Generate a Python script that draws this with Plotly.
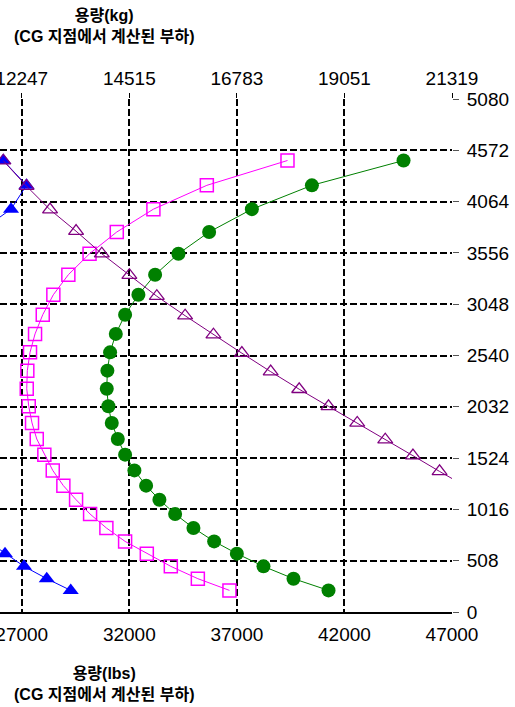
import plotly.graph_objects as go

# ---- axis ticks ----
lbs_ticks = [27000, 32000, 37000, 42000, 47000]
lbs_labels = ["27000", "32000", "37000", "42000", "47000"]
kg_labels = ["12247", "14515", "16783", "19051", "21319"]
y_ticks = [0, 508, 1016, 1524, 2032, 2540, 3048, 3556, 4064, 4572, 5080]

# ---- series data (x in lbs, y load) ----
load_levels = [214, 330, 452, 578, 699, 832, 970, 1112, 1251, 1402, 1558, 1713, 1872,
               2038, 2211, 2390, 2571, 2754, 2944, 3142, 3340, 3548, 3763, 3989, 4225, 4471]

magenta_x = [36655, 35186, 33930, 32814, 31805, 30935, 30177, 29526, 28935, 28442, 28051,
             27698, 27479, 27326, 27233, 27260, 27386, 27619, 27977, 28470, 29167, 30153,
             31418, 33121, 35604, 39353]

green_x = [41260, 39632, 38237, 37000, 35944, 34981, 34130, 33400, 32781, 32237, 31805,
           31465, 31186, 31028, 30953, 30981, 31107, 31372, 31805, 32423, 33200, 34284,
           35711, 37697, 40488, 44748]

blue_x = [29277, 28163, 27107, 26223, 25433, 25014, 26502, 27223, 26144]
blue_y = [214, 330, 452, 578, 699, 3763, 3989, 4225, 4471]

purple_x = [26144, 27223, 28316, 29526, 30721, 32004, 33279, 34595, 35911, 37232, 38572,
            39897, 41260, 42595, 43897, 45185, 46422, 47664]
purple_y = [4469, 4217, 3984, 3771, 3548, 3335, 3127, 2934, 2746, 2563, 2380, 2206,
            2036, 1872, 1706, 1548, 1392, 1241]

FONT = "Liberation Sans, Arial, Noto Sans CJK KR, sans-serif"

fig = go.Figure()
fig.add_trace(go.Scatter(x=blue_x, y=blue_y, mode="lines+markers",
                         line=dict(color="#0000FF", width=1),
                         marker=dict(symbol="triangle-up", size=14, color="#0000FF")))
fig.add_trace(go.Scatter(x=green_x, y=load_levels, mode="lines+markers",
                         line=dict(color="#008000", width=1),
                         marker=dict(symbol="circle", size=14, color="#008000")))
fig.add_trace(go.Scatter(x=magenta_x, y=load_levels, mode="lines+markers",
                         line=dict(color="#FF00FF", width=1),
                         marker=dict(symbol="square-open", size=13, color="#FF00FF",
                                     line=dict(width=1.5, color="#FF00FF"))))
fig.add_trace(go.Scatter(x=purple_x, y=purple_y, mode="lines+markers",
                         line=dict(color="#800080", width=1),
                         marker=dict(symbol="triangle-up-open", size=13, color="#800080",
                                     line=dict(width=1.3, color="#800080"))))
# dummy trace for the top (kg) axis
fig.add_trace(go.Scatter(x=[30000], y=[2000], xaxis="x2", mode="markers",
                         marker=dict(opacity=0), hoverinfo="skip"))

xr = [25990, 47000]
grid = dict(showgrid=True, gridcolor="black", gridwidth=2.2, griddash="7px,3px")

fig.update_layout(
    width=515, height=707,
    margin=dict(l=0, r=63, t=99, b=95),
    plot_bgcolor="white", paper_bgcolor="white",
    showlegend=False,
    font=dict(family=FONT, size=19, color="black"),
    xaxis=dict(range=xr, tickvals=lbs_ticks, ticktext=lbs_labels, ticks="",
               showline=True, linecolor="black", linewidth=1.5, zeroline=False,
               automargin=False, ticklabeloverflow="allow", ticklabelstandoff=4,
               tickfont=dict(size=19), **grid),
    xaxis2=dict(range=xr, overlaying="x", side="top", tickvals=lbs_ticks,
                ticktext=kg_labels, ticks="outside", ticklen=5, tickcolor="black",
                tickwidth=1, showgrid=False, showline=False, zeroline=False,
                automargin=False, ticklabeloverflow="allow",
                tickfont=dict(size=19)),
    yaxis=dict(range=[0, 5080], side="right", tickvals=y_ticks, ticks="outside",
               ticklen=6, tickcolor="#555", tickwidth=1, showline=False,
               zeroline=False, automargin=False, ticklabeloverflow="allow",
               ticklabelstandoff=4, tickfont=dict(size=19), **grid),
    annotations=[
        dict(text="<b>용량(kg)<br>(CG 지점에서 계산된 부하)</b>", xref="paper", yref="paper",
             x=104 / 452, y=1 + (99 - 26) / 513, xanchor="center", yanchor="middle",
             showarrow=False, font=dict(size=16, family=FONT)),
        dict(text="<b>용량(lbs)<br>(CG 지점에서 계산된 부하)</b>", xref="paper", yref="paper",
             x=104 / 452, y=-(684 - 612) / 513, xanchor="center", yanchor="middle",
             showarrow=False, font=dict(size=16, family=FONT)),
    ],
)

fig.write_html("out.html", config={"displayModeBar": False},
               post_script="document.body.style.margin='0';document.body.style.overflow='hidden';")
